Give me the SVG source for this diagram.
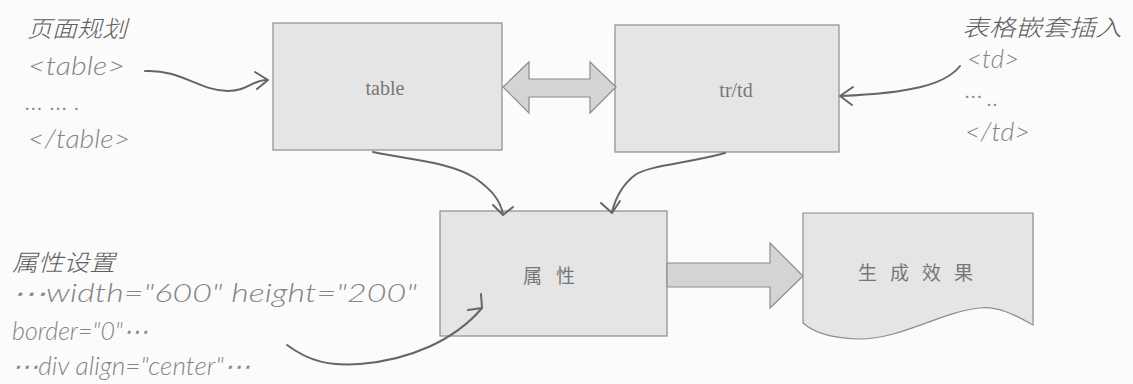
<svg xmlns="http://www.w3.org/2000/svg" width="1133" height="384" viewBox="0 0 1133 384">
<defs>
<style>
.bg{fill:#fbfbfb}
.box{fill:#e5e5e5;stroke:#8c8c8c;stroke-width:1.2}
.big{fill:#d4d4d4;stroke:#8c8c8c;stroke-width:1.2}
.lbl{font-family:"Liberation Serif",serif;font-size:20px;fill:#777;text-anchor:middle}
.cn{font-family:"Noto Sans CJK SC",sans-serif;font-size:19px;fill:#777}
.hand{font-family:"Noto Sans CJK SC",sans-serif;font-size:23px;font-weight:300;fill:#5f5f5f;font-style:italic}
.code{font-family:Lato,"Open Sans",sans-serif;font-style:italic;font-weight:300;font-size:25px;fill:#858585}
.con{fill:none;stroke:#666;stroke-width:2;stroke-linecap:round;stroke-linejoin:round}
</style>
</defs>
<rect class="bg" x="0" y="0" width="1133" height="384"/>

<g id="node-table">
<rect class="box" x="273" y="23" width="229" height="127"/>
<text class="lbl" x="385" y="95">table</text>
</g>

<g id="node-trtd">
<rect class="box" x="615" y="25" width="224" height="127"/>
<text class="lbl" x="736" y="97">tr/td</text>
</g>

<g id="double-arrow">
<polygon class="big" points="503,87 529,62 529,79 590,79 590,62 616,87 590,113 590,97 529,97 529,113"/>
</g>

<g id="node-attr">
<rect class="box" x="440" y="211" width="227" height="125"/>
<text class="cn" x="523" y="283" textLength="52" lengthAdjust="spacing">属 性</text>
</g>

<g id="block-arrow">
<polygon class="big" points="667,263 770,263 770,243 803,276 770,308 770,287 667,287"/>
</g>

<g id="node-result">
<path class="box" d="M803,213 H1033 V325 C1012,313 996,306 980,308 C940,312 900,340 857,339 C830,338 812,331 803,323 Z"/>
<text class="cn" x="858" y="280" textLength="115" lengthAdjust="spacing">生 成 效 果</text>
</g>

<g id="connectors">
<path class="con" d="M145,71 C180,69 200,91 228,91 C248,91 252,80 267,80"/>
<path class="con" d="M255,72 L268,80 L257,89"/>
<path class="con" d="M960,66 C945,85 910,93 841,96"/>
<path class="con" d="M853,87 L840,96 L852,105"/>
<path class="con" d="M373,152 C410,160 450,162 475,178 C492,190 500,200 503,214"/>
<path class="con" d="M493,205 L503,215 L513,207"/>
<path class="con" d="M725,153 C690,163 650,165 635,175 C622,185 615,200 612,212"/>
<path class="con" d="M601,203 L612,213 L620,201"/>
<path class="con" d="M287,345 C310,362 330,366 360,364 C410,360 455,340 482,308"/>
<path class="con" d="M468,310 L482,308 L481,294"/>
</g>

<g id="note-page">
<text class="hand" x="27" y="37" textLength="100" lengthAdjust="spacingAndGlyphs">页面规划</text>
<text class="code" x="28" y="75" textLength="97" lengthAdjust="spacingAndGlyphs">&lt;table&gt;</text>
<text class="code" x="25" y="110" font-size="14" textLength="55" lengthAdjust="spacing">……. </text>
<text class="code" x="28" y="148" textLength="102" lengthAdjust="spacingAndGlyphs">&lt;/table&gt;</text>
</g>

<g id="note-nest">
<text class="hand" x="962" y="36" textLength="160" lengthAdjust="spacingAndGlyphs">表格嵌套插入</text>
<text class="code" x="967" y="68" textLength="52" lengthAdjust="spacingAndGlyphs">&lt;td&gt;</text>
<text class="code" x="965" y="98" font-size="14">…</text>
<text class="code" x="987" y="106" font-size="14">..</text>
<text class="code" x="965" y="141" textLength="65" lengthAdjust="spacingAndGlyphs">&lt;/td&gt;</text>
</g>

<g id="note-attr">
<text class="hand" x="12" y="271" textLength="103" lengthAdjust="spacingAndGlyphs">属性设置</text>
<text class="code" x="12" y="302" textLength="405" lengthAdjust="spacingAndGlyphs">⋯width="600" height="200"</text>
<text class="code" x="12" y="340" textLength="136" lengthAdjust="spacingAndGlyphs">border="0"⋯</text>
<text class="code" x="12" y="375" textLength="238" lengthAdjust="spacingAndGlyphs">⋯div align="center"⋯</text>
</g>
</svg>
